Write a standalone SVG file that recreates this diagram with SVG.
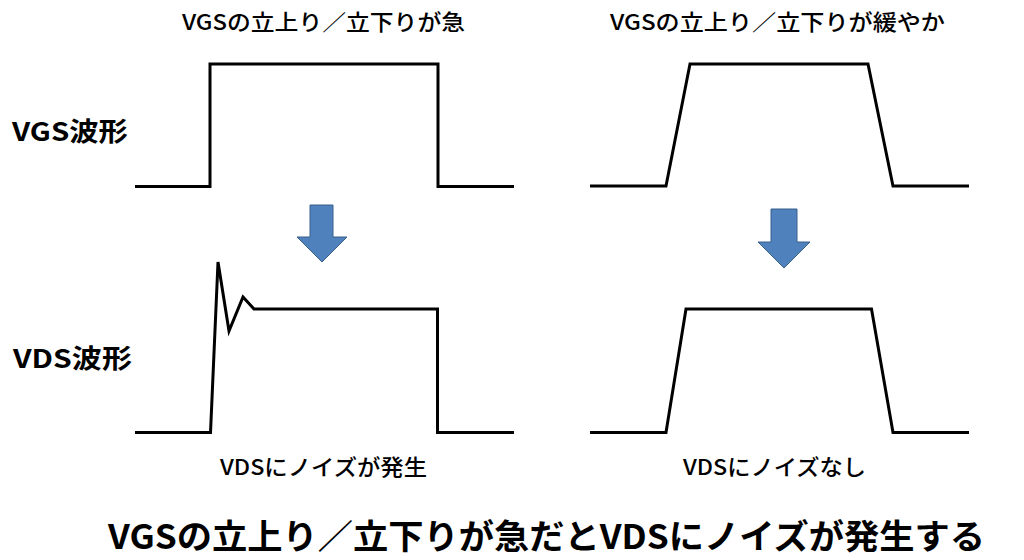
<svg xmlns="http://www.w3.org/2000/svg" width="1024" height="560" viewBox="0 0 1024 560">
<style>
text{font-family:"Noto Sans CJK JP","Noto Sans",sans-serif;fill:#000}
.t{font-size:22px;font-weight:500}
.lab{font-size:26px;font-weight:700}
.big{font-size:34px;font-weight:700}
.w{fill:none;stroke:#000;stroke-width:3;stroke-linejoin:miter}
.arr{fill:#4F81BD;stroke:#3A5F8C;stroke-width:1}
</style>
<rect width="1024" height="560" fill="#fff"/>
<g id="title-left"><text class="t" x="182" y="30" textLength="283" lengthAdjust="spacingAndGlyphs">VGSの立上り／立下りが急</text></g>
<g id="title-right"><text class="t" x="610" y="30" textLength="335" lengthAdjust="spacingAndGlyphs">VGSの立上り／立下りが緩やか</text></g>
<g id="label-vgs"><text class="lab" x="12" y="141" textLength="116" lengthAdjust="spacingAndGlyphs">VGS波形</text></g>
<g id="label-vds"><text class="lab" x="13" y="368" textLength="119" lengthAdjust="spacingAndGlyphs">VDS波形</text></g>
<g id="vgs-fast"><polyline class="w" points="135,186.5 210,186.5 210,64 438,64 438,186.5 514,186.5"/></g>
<g id="vgs-slow"><polyline class="w" points="590,186 666,186 690,64 868,64 893,186 969,186"/></g>
<g id="vds-noise"><polyline class="w" points="135,432.5 210.5,432.5 218,262 229,331 243,297 254,309 437.5,309 437.5,432.5 514,432.5"/></g>
<g id="vds-clean"><polyline class="w" points="590,432.5 666,432.5 686,309 871.5,309 893,432.5 969,432.5"/></g>
<g id="connectors">
<polygon class="arr" points="310,205 333,205 333,237 347,237 322,262 297,237 310,237"/>
<polygon class="arr" points="771,209 797,209 797,242 810,242 784,268 758,242 771,242"/>
</g>
<g id="caption-left"><text class="t" x="220" y="475" textLength="207" lengthAdjust="spacingAndGlyphs">VDSにノイズが発生</text></g>
<g id="caption-right"><text class="t" x="683" y="475" textLength="183" lengthAdjust="spacingAndGlyphs">VDSにノイズなし</text></g>
<g id="conclusion"><text class="big" x="108" y="549" textLength="877" lengthAdjust="spacingAndGlyphs">VGSの立上り／立下りが急だとVDSにノイズが発生する</text></g>
</svg>
